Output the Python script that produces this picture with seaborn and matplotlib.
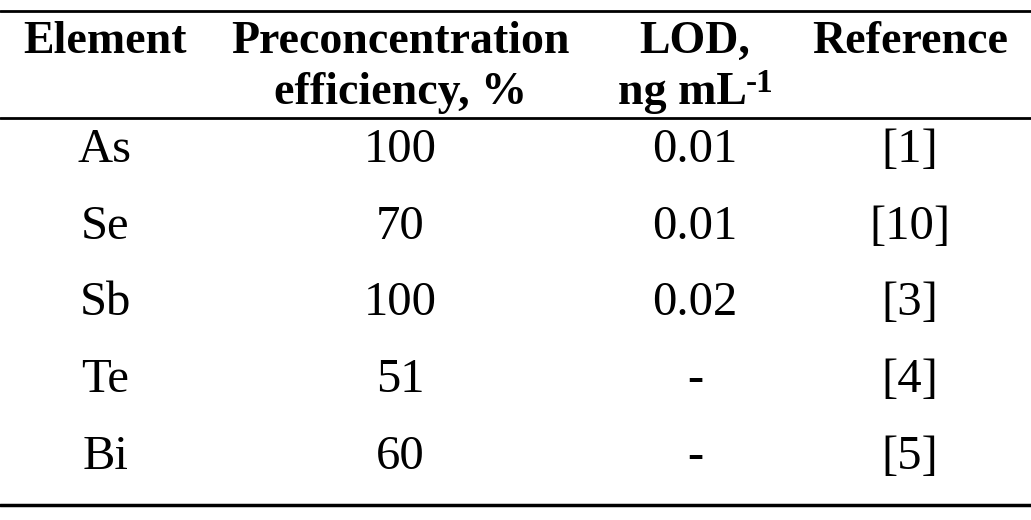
import matplotlib
matplotlib.use("Agg")
import matplotlib.pyplot as plt
import seaborn as sns

# ---- data ----
headers_line1 = ["Element", "Preconcentration", "LOD,", "Reference"]
headers_line2 = ["", "efficiency, %", "ng mL", ""]
lod_unit_exponent = "-1"
elements = ["As", "Se", "Sb", "Te", "Bi"]
efficiency = ["100", "70", "100", "51", "60"]
lod = ["0.01", "0.01", "0.02", "-", "-"]
references = ["[1]", "[10]", "[3]", "[4]", "[5]"]

sns.set_theme(style="white")
plt.rcParams['font.family'] = ['Liberation Serif', 'DejaVu Serif']

W, H = 1031, 520
fig = plt.figure(figsize=(W / 100, H / 100), dpi=100)
ax = fig.add_axes([0, 0, 1, 1])
ax.set_xlim(0, W)
ax.set_ylim(H, 0)
ax.axis("off")

col_x = [105, 400, 695, 910]
head_y1, head_y2 = 42, 93
row_y = [150, 227, 303, 380, 457]

hsize = 33
bsize = 35

for i, (x, t1, t2) in enumerate(zip(col_x, headers_line1, headers_line2)):
    ax.text(x, head_y1, t1, ha="center", va="center", fontsize=hsize,
            fontweight="bold", color="black")
    if t2:
        if i == 2:
            main = ax.text(x + 52, head_y2, t2, ha="right", va="center",
                           fontsize=hsize, fontweight="bold", color="black")
            ax.annotate(lod_unit_exponent, xy=(1, 1), xycoords=main,
                        xytext=(-1, 3), textcoords="offset points",
                        ha="left", va="top", fontsize=24,
                        fontweight="bold", color="black")
        else:
            ax.text(x, head_y2, t2, ha="center", va="center", fontsize=hsize,
                    fontweight="bold", color="black")

columns = [elements, efficiency, lod, references]
for x, col in zip(col_x, columns):
    for y, val in zip(row_y, col):
        ax.text(x, y, val, ha="center", va="center", fontsize=bsize,
                color="black")

for y, lw in [(11, 2.0), (118, 2.0), (505, 2.5)]:
    ax.axhline(y, color="black", lw=lw)

fig.savefig("out.png", dpi=100)
